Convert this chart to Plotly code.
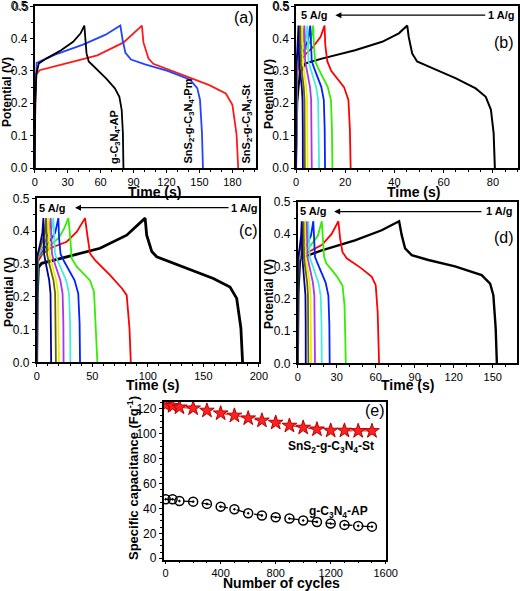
import plotly.graph_objects as go

# ---------------- DATA ----------------
rates = ["1 A/g", "1.5 A/g", "2 A/g", "2.5 A/g", "3 A/g", "3.5 A/g", "4 A/g", "4.5 A/g", "5 A/g"]
rate_colors = ["#000000", "#ff0000", "#33ee00", "#0022ff", "#44eedd", "#aa33ee", "#eeee00", "#666600", "#000088"]
potential_ticks = [0.0, 0.1, 0.2, 0.3, 0.4, 0.5]

# shared voltage profile of the fast (high-rate) curves, V
v_small = [0, 0.27, 0.32, 0.36, 0.395, 0.44, 0.38, 0.33, 0.31, 0.25, 0.21, 0.12, 0]

# ---- g-C3N4-AP (panel b), time in s ----
ap_t_1 = [0, 0.5, 1.5, 3.7, 10.5, 24, 35, 41.8, 45.2, 45.8, 47.2, 49.2, 54, 65, 73, 77.1, 79.2, 80.3, 80.8]
ap_v_1 = [0, 0.2, 0.29, 0.323, 0.338, 0.364, 0.39, 0.416, 0.44, 0.405, 0.354, 0.329, 0.313, 0.277, 0.246, 0.22, 0.18, 0.108, 0]
ap_t_15 = [0, 0.3, 1, 3.7, 7, 10, 11.6, 11.9, 12.7, 14.3, 19.5, 21.3, 21.9, 22.2]
ap_v_15 = [0, 0.27, 0.32, 0.35, 0.375, 0.405, 0.44, 0.38, 0.33, 0.30, 0.25, 0.21, 0.12, 0]
ap_t_2 = [0, 0.2, 0.6, 3.5, 6, 7.0, 7.25, 7.8, 8.9, 12.9, 14.2, 14.6, 14.8]
ap_t_25 = [0, 0.15, 0.5, 2.9, 4.9, 5.8, 6.0, 6.4, 7.3, 10.3, 11.3, 11.65, 11.8]
ap_t_3 = [0, 0.1, 0.4, 2.3, 3.9, 4.6, 4.75, 5.1, 5.8, 8.2, 9.0, 9.3, 9.4]
ap_t_35 = [0, 0.1, 0.3, 1.7, 2.9, 3.4, 3.5, 3.7, 4.2, 5.7, 6.15, 6.33, 6.4]
ap_t_4 = [0, 0.08, 0.25, 1.25, 2.1, 2.5, 2.57, 2.72, 3.05, 4.15, 4.5, 4.65, 4.7]
ap_t_45 = [0, 0.06, 0.2, 0.85, 1.45, 1.7, 1.76, 1.9, 2.18, 3.13, 3.45, 3.56, 3.6]
ap_t_5 = [0, 0.05, 0.15, 0.5, 0.85, 1.0, 1.05, 1.18, 1.45, 2.35, 2.65, 2.76, 2.8]

# ---- SnS2-g-C3N4-St (panel c) ----
st_t_1 = [0, 0.5, 1.5, 4.5, 27, 57, 81, 97.6, 99, 103.6, 108, 132, 159, 174, 180, 183.8, 185.3]
st_v_1 = [0, 0.2, 0.29, 0.302, 0.322, 0.348, 0.388, 0.44, 0.388, 0.338, 0.322, 0.292, 0.256, 0.23, 0.195, 0.104, 0]
st_t_15 = [0, 0.4, 1.5, 5, 12, 27, 36, 43.5, 45.6, 48, 52.5, 66, 76.6, 81, 83.5, 84.7]
st_v_15 = [0, 0.25, 0.31, 0.33, 0.348, 0.368, 0.398, 0.44, 0.388, 0.332, 0.312, 0.266, 0.226, 0.205, 0.104, 0]
st_t_2 = [0, 0.3, 1, 10, 20, 25, 28.5, 30, 31.5, 36, 48, 51.6, 53.4, 54.6]
st_v_2 = [0, 0.27, 0.32, 0.35, 0.38, 0.41, 0.44, 0.388, 0.317, 0.292, 0.25, 0.215, 0.104, 0]
st_t_25 = [0, 0.2, 0.7, 9.8, 16.6, 19.5, 20.1, 21.5, 24.4, 34.1, 37.4, 38.6, 39]
st_t_3 = [0, 0.15, 0.5, 7.5, 12.8, 15, 15.5, 16.5, 18.8, 26.5, 29.1, 30, 30.3]
st_t_35 = [0, 0.12, 0.4, 6.3, 10.7, 12.6, 12.9, 13.8, 15.5, 21.3, 23.3, 24, 24.2]
st_t_4 = [0, 0.1, 0.35, 5.2, 8.9, 10.5, 10.8, 11.5, 12.9, 17.6, 19.2, 19.8, 20]
st_t_45 = [0, 0.08, 0.3, 4.2, 7.1, 8.4, 8.7, 9.3, 10.6, 15.1, 16.6, 17.1, 17.3]
st_t_5 = [0, 0.06, 0.25, 3, 5.1, 6, 6.2, 6.7, 7.75, 11.25, 12.45, 12.85, 13]

# ---- SnS2-g-C3N4-Pm (panel d) ----
pm_t_1 = [0, 0.5, 1.8, 18.5, 44, 64.6, 78, 80, 82.6, 87.7, 100.5, 121, 141.5, 148, 150.5, 152.3, 153.2]
pm_v_1 = [0, 0.22, 0.325, 0.35, 0.381, 0.412, 0.44, 0.397, 0.356, 0.335, 0.32, 0.3, 0.273, 0.247, 0.211, 0.108, 0]
pm_t_15 = [0, 0.3, 1, 8.2, 18.5, 26, 31.3, 32.6, 34.4, 37.7, 49, 57, 60, 61.5, 62.6]
pm_v_15 = [0, 0.28, 0.33, 0.345, 0.366, 0.40, 0.44, 0.387, 0.345, 0.325, 0.294, 0.268, 0.242, 0.16, 0]
pm_t_2 = [0, 0.2, 0.6, 9, 15.5, 18.5, 19.3, 20.3, 22, 30, 34.5, 36, 36.6, 37]
pm_v_2 = [0, 0.27, 0.32, 0.36, 0.395, 0.44, 0.39, 0.33, 0.31, 0.27, 0.24, 0.18, 0.08, 0]
pm_t_25 = [0, 0.15, 0.5, 6, 10.2, 12, 12.4, 13.3, 15.2, 21.5, 23.6, 24.35, 24.6]
pm_t_3 = [0, 0.1, 0.4, 4.1, 7, 8.2, 8.5, 9.2, 10.8, 15.9, 17.7, 18.3, 18.5]
pm_t_35 = [0, 0.1, 0.3, 3.5, 5.9, 6.9, 7.1, 7.5, 8.5, 11.7, 12.8, 13.2, 13.3]
pm_t_4 = [0, 0.08, 0.25, 2.8, 4.8, 5.6, 5.75, 6.1, 6.8, 9.1, 9.9, 10.2, 10.3]
pm_t_45 = [0, 0.06, 0.2, 2.2, 3.7, 4.4, 4.5, 4.8, 5.35, 7.25, 7.9, 8.1, 8.2]
pm_t_5 = [0, 0.05, 0.15, 1.55, 2.6, 3.1, 3.2, 3.4, 3.9, 5.4, 5.95, 6.15, 6.2]

# ---- panel (e): cycling stability ----
cycles = [0, 50, 100, 200, 300, 400, 500, 600, 700, 800, 900, 1000, 1100, 1200, 1300, 1400, 1500]
cap_st = [123.2, 122.4, 121.3, 120.5, 118.7, 116.5, 114.7, 112.5, 110.7, 109.0, 106.6, 105.0, 103.6, 102.6, 102.6, 102.3, 102.3]
cap_ap = [47.4, 47.4, 46.0, 45.5, 43.7, 41.5, 39.4, 36.2, 34.3, 33.0, 31.9, 30.3, 29.2, 27.9, 26.8, 26.0, 25.4]

# ---------------- FIGURE ----------------
W, H = 520, 591
FONT = "Liberation Sans, Arial, sans-serif"


def px(x):
    return x / W


def py(y):
    return 1 - y / H


fig = go.Figure()


def add_rate_series(times, volts, xa, ya, black_width):
    for i, (t, v) in enumerate(zip(times, volts)):
        fig.add_trace(go.Scatter(
            x=t, y=v, mode="lines", name=rates[i], showlegend=False,
            line=dict(color=rate_colors[i], width=black_width if i == 0 else 1.8),
            xaxis=xa, yaxis=ya))


# (a)
sample_colors = ["#000000", "#2244ff", "#ff1a1a"]
for t, v, c in [(st_t_1, st_v_1, sample_colors[2]), (pm_t_1, pm_v_1, sample_colors[1]), (ap_t_1, ap_v_1, sample_colors[0])]:
    fig.add_trace(go.Scatter(x=t, y=v, mode="lines", showlegend=False,
                             line=dict(color=c, width=1.8), xaxis="x", yaxis="y"))

# (b)
add_rate_series([ap_t_1, ap_t_15, ap_t_2, ap_t_25, ap_t_3, ap_t_35, ap_t_4, ap_t_45, ap_t_5],
                [ap_v_1, ap_v_15] + [v_small] * 7, "x2", "y2", 2.0)
# (c)
add_rate_series([st_t_1, st_t_15, st_t_2, st_t_25, st_t_3, st_t_35, st_t_4, st_t_45, st_t_5],
                [st_v_1, st_v_15, st_v_2] + [v_small] * 6, "x3", "y3", 2.8)
# (d)
add_rate_series([pm_t_1, pm_t_15, pm_t_2, pm_t_25, pm_t_3, pm_t_35, pm_t_4, pm_t_45, pm_t_5],
                [pm_v_1, pm_v_15, pm_v_2] + [v_small] * 6, "x4", "y4", 2.4)

# (e)
fig.add_trace(go.Scatter(x=cycles, y=cap_st, mode="lines+markers", showlegend=False,
                         line=dict(color="#ff2020", width=1.2, dash="dash"),
                         marker=dict(symbol="star", size=11, color="#ff2020",
                                     line=dict(color="#b00000", width=1)),
                         xaxis="x5", yaxis="y5"))
fig.add_trace(go.Scatter(x=cycles, y=cap_ap, mode="lines+markers", showlegend=False,
                         line=dict(color="#000000", width=1.2, dash="dash"),
                         marker=dict(symbol="circle-open-dot", size=9, color="#000000",
                                     line=dict(color="#000000", width=1.5)),
                         xaxis="x5", yaxis="y5"))

axis_common = dict(showline=True, linecolor="black", linewidth=1.5, mirror=True,
                   ticks="outside", ticklen=3, tickwidth=1.2, tickcolor="black",
                   showgrid=False, zeroline=False, automargin=False,
                   ticklabeloverflow="allow",
                   minor=dict(ticks="outside", ticklen=2, tickwidth=1, tickcolor="black"))


def xaxis(domain, rng, dtick, anchor):
    d = dict(axis_common)
    d.update(domain=domain, range=rng, dtick=dtick, anchor=anchor,
             tickfont=dict(size=11, color="black", family=FONT))
    return d


def yaxis(domain, rng, dtick, anchor):
    d = dict(axis_common)
    d.update(domain=domain, range=rng, anchor=anchor,
             tickfont=dict(size=12, color="black", family=FONT))
    if dtick < 1:
        d.update(tickmode="array", tickvals=potential_ticks,
                 ticktext=["%.1f" % v for v in potential_ticks],
                 minor=dict(ticks="outside", ticklen=2, tickwidth=1, tickcolor="black",
                            tickmode="linear", tick0=0.05, dtick=0.1))
    else:
        d["dtick"] = dtick
    return d


fig.update_layout(
    width=W, height=H, margin=dict(l=0, r=0, t=0, b=0, autoexpand=False),
    paper_bgcolor="white", plot_bgcolor="white",
    font=dict(family=FONT, color="black"),
    xaxis=xaxis([px(34.7), px(256)], [0, 201.5], 30, "y"),
    yaxis=yaxis([py(168), py(6)], [0, 0.5005], 0.1, "x"),
    xaxis2=xaxis([px(296), px(517.5)], [0, 90], 20, "y2"),
    yaxis2=yaxis([py(168), py(6)], [0, 0.5005], 0.1, "x2"),
    xaxis3=xaxis([px(36.7), px(258.9)], [0, 200], 50, "y3"),
    yaxis3=yaxis([py(362.3), py(198.3)], [0, 0.5005], 0.1, "x3"),
    xaxis4=xaxis([px(297.7), px(517.4)], [0, 169], 30, "y4"),
    yaxis4=yaxis([py(363.3), py(201.7)], [0, 0.5005], 0.1, "x4"),
    xaxis5=xaxis([px(163.6), px(385.7)], [-15, 1600], 400, "y5"),
    yaxis5=yaxis([py(559.5), py(401.5)], [-1, 126], 20, "x5"),
)

ann = []
title_font = dict(size=13, color="black", family=FONT, weight="bold")
bold = dict(size=11, color="black", family=FONT, weight="bold")
lab = dict(size=16, color="black", family=FONT)
tick_font = dict(size=12, color="black", family=FONT)


def text_at(txt, x, y, font, angle=0, xanchor="center", yanchor="middle"):
    ann.append(dict(text=txt, x=px(x), y=py(y), xref="paper", yref="paper", showarrow=False,
                    font=font, textangle=angle, xanchor=xanchor, yanchor=yanchor))


# top "0.5" tick labels of panels (a) and (b) (plotly hides labels touching the page top)
text_at("%.1f" % potential_ticks[-1], 31, 6.5, tick_font, xanchor="right")
text_at("%.1f" % potential_ticks[-1], 292.3, 6.5, tick_font, xanchor="right")

# axis titles
for x, y in [(154, 192), (413, 192), (152, 385), (407, 385)]:
    text_at("Time (s)", x, y, dict(title_font, size=14))
for x, y in [(7, 92), (269, 94), (9, 292), (269, 294)]:
    text_at("Potential (V)", x, y, dict(title_font, size=12), angle=-90)
text_at("Number of cycles", 281, 583, dict(title_font, size=14))
text_at("Specific capacitance (Fg<sup>-1</sup>)", 133, 478, title_font, angle=-90)

# panel letters
for txt, x, y in [("(a)", 244, 17), ("(b)", 504, 43), ("(c)", 248, 231), ("(d)", 504, 238), ("(e)", 375, 410)]:
    text_at(txt, x, y, lab)
# (a) rotated sample labels
for txt, x in [("g-C<sub>3</sub>N<sub>4</sub>-AP", 115), ("SnS<sub>2</sub>-g-C<sub>3</sub>N<sub>4</sub>-Pm", 188),
               ("SnS<sub>2</sub>-g-C<sub>3</sub>N<sub>4</sub>-St", 246)]:
    text_at(txt, x, 166, bold, angle=-90, yanchor="bottom")
# rate arrows and labels
for (xa, ya, x5, x1, yy, head, tail, yv) in [
        ("x2", "y2", 314, 501, 15, 16, 77.5, 0.472),
        ("x3", "y3", 52, 244, 208, 34.5, 174, 0.472),
        ("x4", "y4", 313, 499, 211, 28, 142.5, 0.47)]:
    text_at("5 A/g", x5, yy, bold)
    text_at("1 A/g", x1, yy, bold)
    ann.append(dict(text="", x=head, y=yv, ax=tail, ay=yv, xref=xa, yref=ya, axref=xa, ayref=ya,
                    showarrow=True, arrowhead=2, arrowsize=1, arrowwidth=1.2, arrowcolor="black"))
# (e) labels
text_at("SnS<sub>2</sub>-g-C<sub>3</sub>N<sub>4</sub>-St", 331, 447, dict(bold, size=12))
text_at("g-C<sub>3</sub>N<sub>4</sub>-AP", 338, 512, dict(bold, size=12))
fig.update_layout(annotations=ann)

fig.write_html("out.html", config={"displayModeBar": False},
               post_script="document.body.style.margin='0';document.body.style.overflow='hidden';")
